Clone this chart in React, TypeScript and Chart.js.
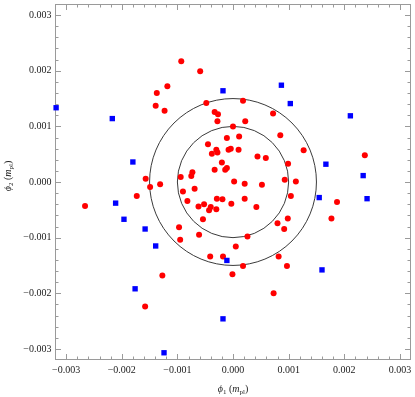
import React, { useEffect, useRef } from "react";
import { Chart, registerables } from "chart.js";

Chart.register(...registerables);

// Red circles: (phi1, phi2) in m_pl
const redPhi1 = [
  -0.93e-3, -0.59e-3, -1.18e-3, -1.37e-3, -1.39e-3, -1.23e-3, -0.48e-3, 0.18e-3, -0.33e-3, -0.27e-3,
  -0.28e-3, 0.22e-3, 0.72e-3, 0.0, -0.11e-3, 0.11e-3, 0.85e-3, -0.45e-3, -0.30e-3, -0.28e-3,
  -0.38e-3, -0.08e-3, -0.04e-3, 0.10e-3, 1.27e-3, 0.44e-3, 0.59e-3, -0.20e-3, 0.99e-3, -0.33e-3,
  -0.14e-3, -0.11e-3, 2.37e-3, -1.57e-3, -1.49e-3, -1.31e-3, -1.73e-3, -0.94e-3, -0.73e-3, -0.75e-3,
  0.02e-3, 0.21e-3, 0.52e-3, 0.93e-3, 1.13e-3, -0.90e-3, -0.69e-3, -0.82e-3, -0.62e-3, -0.52e-3,
  -0.40e-3, -0.43e-3, -0.30e-3, -0.03e-3, 0.42e-3, -0.29e-3, -0.19e-3, 0.21e-3, 1.04e-3, 1.87e-3,
  -2.66e-3, -0.54e-3, -0.97e-3, -0.95e-3, -0.61e-3, 0.80e-3, 0.985e-3, 0.92e-3, 1.77e-3, 0.26e-3,
  0.05e-3, -0.41e-3, -0.18e-3, 0.82e-3, 0.18e-3, 0.97e-3, -0.01e-3, -1.27e-3, -1.58e-3, 0.73e-3,
];
const redPhi2 = [
  2.17e-3, 1.99e-3, 1.72e-3, 1.60e-3, 1.37e-3, 1.28e-3, 1.42e-3, 1.46e-3, 1.26e-3, 1.22e-3,
  1.09e-3, 1.09e-3, 1.23e-3, 1.0e-3, 0.79e-3, 0.82e-3, 0.84e-3, 0.68e-3, 0.58e-3, 0.53e-3,
  0.51e-3, 0.58e-3, 0.60e-3, 0.58e-3, 0.57e-3, 0.46e-3, 0.43e-3, 0.35e-3, 0.33e-3, 0.22e-3,
  0.22e-3, 0.25e-3, 0.48e-3, 0.06e-3, -0.09e-3, -0.04e-3, -0.25e-3, 0.09e-3, 0.175e-3, 0.11e-3,
  0.01e-3, -0.03e-3, -0.05e-3, 0.04e-3, 0.01e-3, -0.17e-3, -0.12e-3, -0.34e-3, -0.44e-3, -0.40e-3,
  -0.45e-3, -0.51e-3, -0.49e-3, -0.39e-3, -0.45e-3, -0.30e-3, -0.31e-3, -0.30e-3, -0.25e-3, -0.36e-3,
  -0.43e-3, -0.67e-3, -0.815e-3, -1.04e-3, -0.95e-3, -0.74e-3, -0.655e-3, -0.845e-3, -0.655e-3, -0.98e-3,
  -1.16e-3, -1.34e-3, -1.34e-3, -1.34e-3, -1.51e-3, -1.51e-3, -1.66e-3, -1.68e-3, -2.24e-3, -2.00e-3,
];

// Blue squares
const bluePhi1 = [
  -3.18e-3, -2.17e-3, -1.80e-3, -2.11e-3, -1.96e-3, -1.58e-3, -1.39e-3, -1.76e-3, -1.24e-3, -0.18e-3,
  0.87e-3, 1.03e-3, 2.11e-3, 1.67e-3, 2.34e-3, 1.55e-3, 2.41e-3, -0.11e-3, 1.60e-3, -0.18e-3,
];
const bluePhi2 = [
  1.335e-3, 1.14e-3, 0.36e-3, -0.38e-3, -0.67e-3, -0.845e-3, -1.15e-3, -1.92e-3, -3.07e-3, 1.64e-3,
  1.74e-3, 1.41e-3, 1.19e-3, 0.32e-3, 0.115e-3, -0.28e-3, -0.30e-3, -1.41e-3, -1.58e-3, -2.46e-3,
];

const circleRadii = [0.001, 0.0015];
const axisMin = -0.0032;
const axisMax = 0.0032;
const tickValues = [-0.003, -0.002, -0.001, 0, 0.001, 0.002, 0.003];
const minorStep = 0.0002;

const FONT = "'Liberation Serif', 'DejaVu Serif', serif";

function fmt(v: number): string {
  if (Math.abs(v) < 1e-12) return "0.000";
  return (v < 0 ? "\u2212" : "") + Math.abs(v).toFixed(3);
}

type Part = { t: string; italic?: boolean; sub?: boolean };

function drawTitle(ctx: CanvasRenderingContext2D, parts: Part[], cx: number, cy: number, rotate: boolean) {
  ctx.save();
  ctx.translate(cx, cy);
  if (rotate) ctx.rotate(-Math.PI / 2);
  ctx.fillStyle = "#222";
  ctx.textBaseline = "alphabetic";
  ctx.textAlign = "left";
  const fontFor = (p: Part) => `${p.italic ? "italic " : ""}${p.sub ? 7 : 10}px ${FONT}`;
  let w = 0;
  for (const p of parts) {
    ctx.font = fontFor(p);
    w += ctx.measureText(p.t).width;
  }
  let x = -w / 2;
  for (const p of parts) {
    ctx.font = fontFor(p);
    ctx.fillText(p.t, x, p.sub ? 5.5 : 3.5);
    x += ctx.measureText(p.t).width;
  }
  ctx.restore();
}

const framePlugin = {
  id: "mmaFrame",
  beforeDatasetsDraw(chart: any) {
    const { ctx, chartArea: a, scales } = chart;
    const xs = scales.x;
    const ys = scales.y;
    ctx.save();
    // reference circles
    const cx = xs.getPixelForValue(0);
    const cy = ys.getPixelForValue(0);
    ctx.strokeStyle = "#3a3a3a";
    ctx.lineWidth = 1;
    for (const r of circleRadii) {
      const rx = xs.getPixelForValue(r) - cx;
      const ry = cy - ys.getPixelForValue(r);
      ctx.beginPath();
      ctx.ellipse(cx, cy, rx, ry, 0, 0, Math.PI * 2);
      ctx.stroke();
    }
    // frame
    ctx.strokeStyle = "#9a9a9a";
    ctx.lineWidth = 1;
    const L = Math.round(a.left) + 0.5;
    const R = Math.round(a.right) - 0.5;
    const T = Math.round(a.top) + 0.5;
    const B = Math.round(a.bottom) - 0.5;
    ctx.strokeRect(L, T, R - L, B - T);
    ctx.beginPath();
    const n = Math.round(axisMax / minorStep);
    for (let i = -n; i <= n; i++) {
      const v = i * minorStep;
      const major = i % 5 === 0;
      const len = major ? 5.5 : 3;
      const px = Math.round(xs.getPixelForValue(v)) + 0.5;
      if (px >= L && px <= R) {
        ctx.moveTo(px, B);
        ctx.lineTo(px, B - len);
        ctx.moveTo(px, T);
        ctx.lineTo(px, T + len);
      }
      const py = Math.round(ys.getPixelForValue(v)) + 0.5;
      if (py >= T && py <= B) {
        ctx.moveTo(L, py);
        ctx.lineTo(L + len, py);
        ctx.moveTo(R, py);
        ctx.lineTo(R - len, py);
      }
    }
    ctx.stroke();
    ctx.restore();
  },
  afterDraw(chart: any) {
    const { ctx, chartArea: a } = chart;
    drawTitle(
      ctx,
      [{ t: "\u03D5", italic: true }, { t: "1", sub: true }, { t: " (" }, { t: "m", italic: true }, { t: "pl", sub: true }, { t: ")" }],
      (a.left + a.right) / 2,
      388,
      false
    );
    drawTitle(
      ctx,
      [{ t: "\u03D5", italic: true }, { t: "2", sub: true }, { t: " (" }, { t: "m", italic: true }, { t: "pl", sub: true }, { t: ")" }],
      7,
      176,
      true
    );
  },
};

export default function App() {
  const canvasRef = useRef<HTMLCanvasElement | null>(null);

  useEffect(() => {
    const canvas = canvasRef.current;
    if (!canvas) return;
    const red = redPhi1.map((x, i) => ({ x, y: redPhi2[i] }));
    const blue = bluePhi1.map((x, i) => ({ x, y: bluePhi2[i] }));
    const tickFont = { family: FONT, size: 10 };
    const chart = new Chart(canvas, {
      type: "scatter",
      data: {
        datasets: [
          {
            label: "blue",
            data: blue,
            pointStyle: "rect",
            pointRadius: 3.8,
            pointBorderWidth: 0,
            backgroundColor: "#0000ff",
            borderColor: "#0000ff",
            clip: false as any,
          },
          {
            label: "red",
            data: red,
            pointStyle: "circle",
            pointRadius: 3,
            pointBorderWidth: 0,
            backgroundColor: "#ff0000",
            borderColor: "#ff0000",
          },
        ],
      },
      options: {
        animation: false,
        responsive: false,
        devicePixelRatio: 1,
        layout: { padding: { left: 0, top: 1, right: 2, bottom: 0 } },
        plugins: { legend: { display: false }, tooltip: { enabled: false } },
        events: [],
        scales: {
          x: {
            type: "linear",
            position: "bottom",
            min: axisMin,
            max: axisMax,
            grid: { display: false, drawTicks: false },
            border: { display: false },
            afterBuildTicks: (scale: any) => {
              scale.ticks = tickValues.map((v) => ({ value: v }));
            },
            afterFit: (scale: any) => {
              scale.height = 37;
              scale.paddingLeft = 0;
              scale.paddingRight = 0;
            },
            ticks: {
              autoSkip: false,
              maxRotation: 0,
              padding: 4,
              color: "#222",
              font: tickFont,
              callback: (v: any) => fmt(Number(v)),
            },
          },
          y: {
            type: "linear",
            position: "left",
            min: axisMin,
            max: axisMax,
            grid: { display: false, drawTicks: false },
            border: { display: false },
            afterBuildTicks: (scale: any) => {
              scale.ticks = tickValues.map((v) => ({ value: v }));
            },
            afterFit: (scale: any) => {
              scale.width = 55;
              scale.paddingTop = 0;
              scale.paddingBottom = 0;
            },
            ticks: {
              autoSkip: false,
              padding: 3.5,
              color: "#222",
              font: tickFont,
              callback: (v: any) => fmt(Number(v)),
            },
          },
        },
      },
      plugins: [framePlugin],
    } as any);
    return () => chart.destroy();
  }, []);

  return (
    <div style={{ position: "fixed", left: 0, top: 0, width: 415, height: 397, background: "#fff" }}>
      <canvas ref={canvasRef} width={415} height={397} style={{ display: "block" }} />
    </div>
  );
}
